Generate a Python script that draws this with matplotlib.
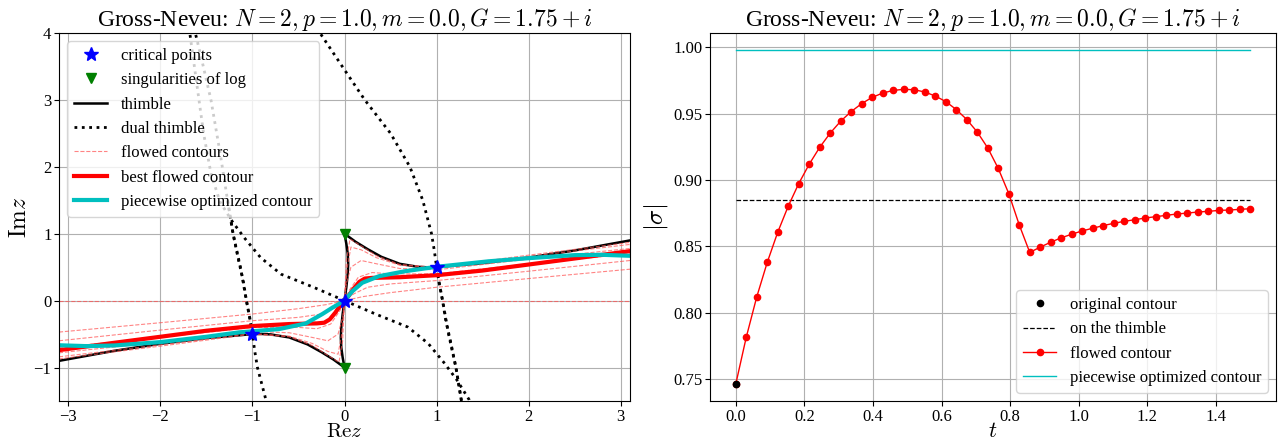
import numpy as np
import matplotlib.pyplot as plt

plt.rcParams['font.family'] = ['Liberation Serif', 'DejaVu Serif']
plt.rcParams['mathtext.fontset'] = 'cm'

# ---- left panel: curves in the complex z plane (half curves, mirrored by z -> -z)
crit_x = [0.0, 1.0, -1.0]
crit_y = [0.0, 0.5, -0.5]
sing_x = [0.0, 0.0]
sing_y = [1.0, -1.0]

# thimble, right branch from the singularity at i out to Re z = 3.1
thimble_x = [0.0, 0.04, 0.12, 0.25, 0.4, 0.6, 0.8, 0.9, 1.0, 1.2, 1.5, 2.0, 2.5, 3.1]
thimble_y = [1.0, 0.96, 0.88, 0.77, 0.655, 0.55, 0.505, 0.498, 0.5, 0.525, 0.56, 0.645, 0.75, 0.9]
# thimble through the origin (upper half)
thimble0_x = [0.0, 0.02, 0.035, 0.04, 0.035, 0.02, 0.0]
thimble0_y = [0.0, 0.2, 0.4, 0.55, 0.7, 0.85, 1.0]

# dual thimbles (upper parts / lower parts, mirrored)
dual_a_x = [1.27, 1.21, 1.13, 1.065, 1.03, 1.0, 0.975, 0.945, 0.85, 0.71, 0.5, 0.22, 0.0, -0.266]
dual_a_y = [-1.5, -1.0, -0.5, 0.0, 0.25, 0.5, 0.75, 1.0, 1.5, 2.0, 2.5, 3.0, 3.45, 4.0]
dual_b_x = [-1.0, -1.03, -1.065, -1.1, -1.15, -1.21, -1.27, -1.35, -1.45, -1.55, -1.62]
dual_b_y = [-0.5, -0.25, 0.0, 0.3, 0.6, 1.0, 1.5, 2.2, 3.0, 3.6, 4.0]
dual_c_x = [0.0, -0.333, -0.688, -0.91, -1.087, -1.22, -1.353, -1.45, -1.53, -1.6, -1.68]
dual_c_y = [0.0, 0.198, 0.395, 0.642, 0.938, 1.185, 1.48, 1.9, 2.5, 3.2, 4.0]

# flowed contours, left halves ending at the origin
flow_x = [
    [-3.1, 0.0],
    [-3.1, -2.0, -1.0, -0.5, -0.2, 0.0],
    [-3.1, -2.0, -1.0, -0.5, -0.25, -0.1, 0.0],
    [-3.1, -2.0, -1.0, -0.5, -0.3, -0.15, -0.05, 0.0],
    [-3.1, -2.0, -1.0, -0.6, -0.35, -0.18, -0.07, -0.02, 0.0],
    [-3.1, -2.0, -1.0, -0.6, -0.35, -0.18, -0.07, -0.03, 0.0],
    [-3.1, -2.0, -1.0, -0.6, -0.35, -0.18, -0.06, -0.02, 0.0],
]
flow_y = [
    [0.0, 0.0],
    [-0.47, -0.33, -0.2, -0.12, -0.06, 0.0],
    [-0.6, -0.44, -0.3, -0.25, -0.2, -0.1, 0.0],
    [-0.7, -0.55, -0.4, -0.4, -0.42, -0.35, -0.15, 0.0],
    [-0.78, -0.62, -0.46, -0.48, -0.55, -0.6, -0.5, -0.25, 0.0],
    [-0.84, -0.66, -0.49, -0.53, -0.64, -0.76, -0.8, -0.5, 0.0],
    [-0.87, -0.68, -0.5, -0.54, -0.67, -0.82, -0.92, -0.6, 0.0],
]

best_x = [-3.1, -2.5, -2.0, -1.5, -1.0, -0.6, -0.3, -0.22, -0.16, -0.1, -0.05, 0.0]
best_y = [-0.74, -0.63, -0.54, -0.45, -0.38, -0.35, -0.34, -0.33, -0.28, -0.18, -0.08, 0.0]

pw_x = [-3.1, -2.8, -2.5, -2.0, -1.5, -1.144, -0.71, -0.42, -0.24, -0.13, 0.0,
        0.085, 0.193, 0.374, 0.66, 0.99, 1.567, 2.0, 2.5, 2.8, 3.1]
pw_y = [-0.667, -0.68, -0.67, -0.62, -0.54, -0.474, -0.425, -0.341, -0.2, -0.104, 0.0,
        0.14, 0.267, 0.365, 0.44, 0.504, 0.588, 0.635, 0.68, 0.685, 0.67]

# ---- right panel: |sigma| versus flow time
t = np.linspace(0, 1.5, 50)
sigma_flow = [0.7463, 0.7816, 0.812, 0.838, 0.8607, 0.8803, 0.8973, 0.9119, 0.9246, 0.9353,
              0.9443, 0.9515, 0.9575, 0.9622, 0.9654, 0.9674, 0.9682, 0.9679, 0.9662, 0.9632,
              0.959, 0.953, 0.9455, 0.9361, 0.9241, 0.9087, 0.8898, 0.8662, 0.8455, 0.8495,
              0.8532, 0.8565, 0.8592, 0.8617, 0.8637, 0.8657, 0.8674, 0.8689, 0.8701, 0.8714,
              0.8724, 0.8734, 0.8744, 0.8751, 0.8759, 0.8764, 0.8771, 0.8774, 0.8779, 0.8784]
sigma_orig = 0.7463
sigma_thimble = 0.885
sigma_pw = 0.998

title = r'Gross-Neveu: $N=2, p=1.0, m=0.0, G=1.75+i$'


def mirror(x, y):
    x = np.asarray(x)
    y = np.asarray(y)
    return np.concatenate([x, -x[::-1][1:]]), np.concatenate([y, -y[::-1][1:]])


fig = plt.figure(figsize=(12.81, 4.45), dpi=100)
ax1 = fig.add_axes([59 / 1281, 44 / 445, 571 / 1281, 368 / 445])
ax2 = fig.add_axes([710 / 1281, 44 / 445, 566 / 1281, 368 / 445])

# left
ax1.plot(crit_x, crit_y, 'b*', ms=10, zorder=10, label='critical points')
ax1.plot(sing_x, sing_y, 'gv', ms=7, zorder=10, label='singularities of log')
for s in [1, -1]:
    ax1.plot(s * np.asarray(thimble_x), s * np.asarray(thimble_y), 'k-', lw=1.8,
             label='thimble' if s == 1 else None)
    ax1.plot(s * np.asarray(thimble0_x), s * np.asarray(thimble0_y), 'k-', lw=1.8)
for s in [1, -1]:
    for dx, dy in [(dual_a_x, dual_a_y), (dual_b_x, dual_b_y), (dual_c_x, dual_c_y)]:
        ax1.plot(s * np.asarray(dx), s * np.asarray(dy), 'k:', lw=2,
                 label='dual thimble' if (s == 1 and dx is dual_a_x) else None)
for i, (fx, fy) in enumerate(zip(flow_x, flow_y)):
    xx, yy = mirror(fx, fy)
    ax1.plot(xx, yy, '--', color='#ff5050', lw=0.8, alpha=0.7,
             label='flowed contours' if i == 0 else None)
bx, by = mirror(best_x, best_y)
ax1.plot(bx, by, 'r-', lw=3, label='best flowed contour')
ax1.plot(pw_x, pw_y, 'c-', lw=3, label='piecewise optimized contour')
ax1.set_xlim(-3.1, 3.1)
ax1.set_ylim(-1.5, 4)
ax1.grid(True)
ax1.set_xlabel(r'$\mathrm{Re}z$', fontsize=15, labelpad=-1)
ax1.set_ylabel(r'$\mathrm{Im}z$', fontsize=17, labelpad=2)
ax1.set_title(title, fontsize=17, pad=4)
ax1.tick_params(labelsize=12, pad=2)
ax1.legend(loc='upper left', fontsize=12)

# right
ax2.plot([0], [sigma_orig], 'k.', ms=9, zorder=5, label='original contour')
ax2.plot([t[0], t[-1]], [sigma_thimble, sigma_thimble], 'k--', lw=0.9, label='on the thimble')
ax2.plot(t, sigma_flow, 'r.-', ms=9, lw=1, label='flowed contour')
ax2.plot([t[0], t[-1]], [sigma_pw, sigma_pw], 'c-', lw=1, label='piecewise optimized contour')
ax2.grid(True)
ax2.set_xlabel(r'$t$', fontsize=16, labelpad=-1)
ax2.set_ylabel(r'$|\sigma|$', fontsize=18, labelpad=2)
ax2.set_title(title, fontsize=17, pad=4)
ax2.tick_params(labelsize=12, pad=2)
ax2.legend(loc='lower right', fontsize=12)

fig.savefig('out.png', dpi=100)
